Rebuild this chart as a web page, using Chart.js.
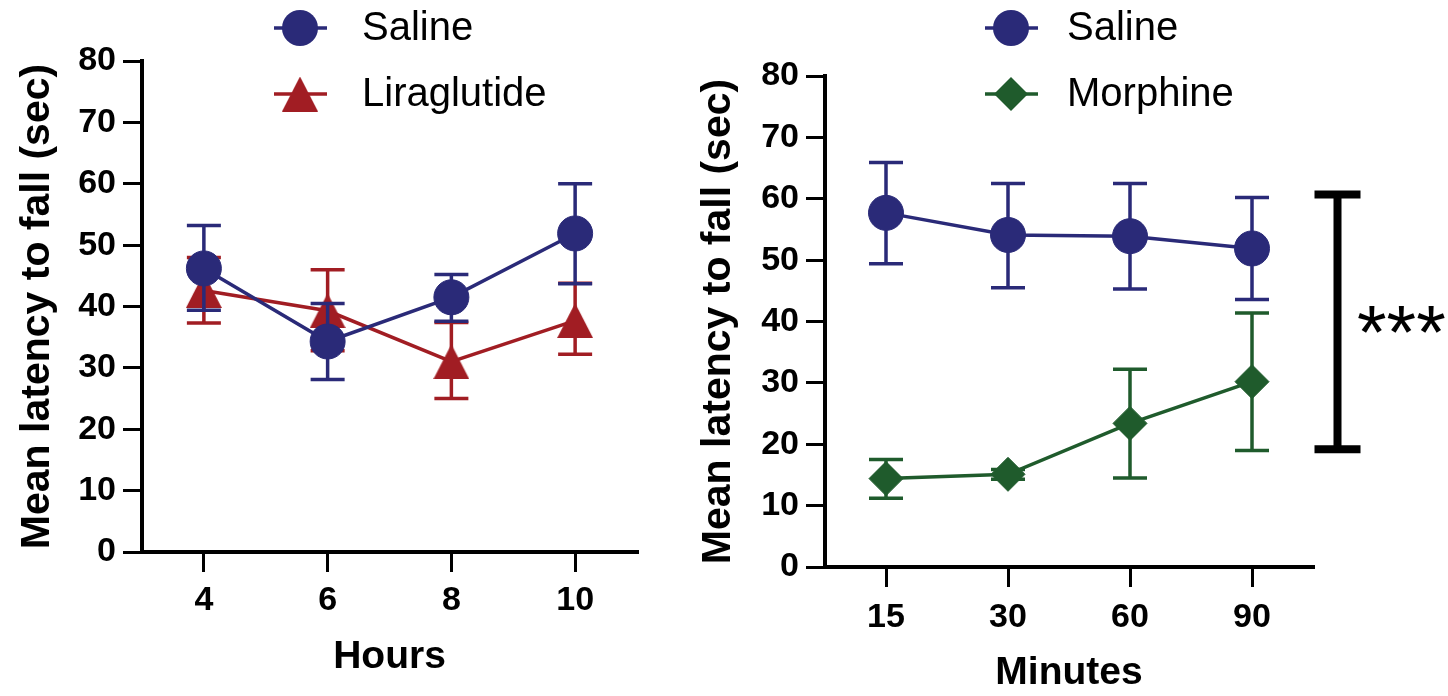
<!DOCTYPE html>
<html><head><meta charset="utf-8">
<script src="https://cdn.jsdelivr.net/npm/chart.js@4/dist/chart.umd.min.js"></script>
<style>
html,body{margin:0;padding:0;background:#fff;}
#wrap{position:relative;width:1448px;height:696px;overflow:hidden;background:#fff;}
canvas{position:absolute;top:0;}
#c1{left:0;} #c2{left:690px;}
</style></head><body>
<div id="wrap"><canvas id="c1" width="690" height="696"></canvas><canvas id="c2" width="758" height="696"></canvas></div>
<script>
// ---------- data ----------
const hoursLabels = ['4', '6', '8', '10'];
const minutesLabels = ['15', '30', '60', '90'];
const yTickValues = [0, 10, 20, 30, 40, 50, 60, 70, 80];

const salineHours = [46.2, 34.3, 41.5, 51.9];
const salineHoursHigh = [53.2, 40.5, 45.2, 60.0];
const salineHoursLow = [39.4, 28.1, 37.6, 43.7];

const liraHours = [42.6, 39.3, 31.0, 37.7];
const liraHoursHigh = [48.0, 46.0, 37.4, 43.8];
const liraHoursLow = [37.3, 32.8, 25.0, 32.2];

const salineMinutes = [57.7, 54.1, 53.9, 51.9];
const salineMinutesHigh = [65.9, 62.5, 62.5, 60.2];
const salineMinutesLow = [49.4, 45.5, 45.3, 43.6];

const morphMinutes = [14.4, 15.1, 23.4, 30.2];
const morphMinutesHigh = [17.5, 15.9, 32.2, 41.4];
const morphMinutesLow = [11.2, 14.3, 14.5, 19.0];

const sigBracket = [19.2, 60.7];
const sigText = '***';

// ---------- styles ----------
const NAVY = '#2a2a78', RED = '#a11d23', GREEN = '#1f5b2c';
const FONT = "'Liberation Sans', Arial, Helvetica, sans-serif";

function triangleCanvas(color){
  const c = document.createElement('canvas'); c.width = 36; c.height = 35;
  const g = c.getContext('2d'); g.fillStyle = color;
  g.beginPath(); g.moveTo(18, 0); g.lineTo(36, 35); g.lineTo(0, 35); g.closePath(); g.fill();
  return c;
}
const TRI = triangleCanvas(RED);

function drawMarker(ctx, style, color, x, y){
  ctx.save(); ctx.fillStyle = color;
  if (style === 'circle'){ ctx.beginPath(); ctx.arc(x, y, 18, 0, Math.PI*2); ctx.fill(); }
  else if (style === 'rectRot'){ ctx.beginPath(); ctx.moveTo(x, y-17); ctx.lineTo(x+17, y); ctx.lineTo(x, y+17); ctx.lineTo(x-17, y); ctx.closePath(); ctx.fill(); }
  else { ctx.drawImage(style, x - style.width/2, y - style.height/2); }
  ctx.restore();
}

const errorBars = {
  id: 'errorBars',
  beforeDatasetDraw(chart, args){
    const ds = chart.data.datasets[args.index];
    if (!ds.errHigh) return;
    const ys = chart.scales.y, ctx = chart.ctx;
    ctx.save(); ctx.strokeStyle = ds.borderColor; ctx.lineWidth = 3.5; ctx.lineCap = 'butt';
    args.meta.data.forEach((pt, i) => {
      const x = pt.x, yh = ys.getPixelForValue(ds.errHigh[i]), yl = ys.getPixelForValue(ds.errLow[i]);
      ctx.beginPath();
      ctx.moveTo(x, yh); ctx.lineTo(x, yl);
      ctx.moveTo(x-17, yh); ctx.lineTo(x+17, yh);
      ctx.moveTo(x-17, yl); ctx.lineTo(x+17, yl);
      ctx.stroke();
    });
    ctx.restore();
  }
};

const customLegend = {
  id: 'customLegend',
  afterDraw(chart, args, opts){
    const ctx = chart.ctx;
    chart.data.datasets.forEach((ds, i) => {
      const y = opts.rows[i];
      ctx.save();
      ctx.strokeStyle = ds.borderColor; ctx.lineWidth = 3.5;
      ctx.beginPath(); ctx.moveTo(opts.x - 26, y); ctx.lineTo(opts.x + 27, y); ctx.stroke();
      drawMarker(ctx, ds.pointStyle, ds.borderColor, opts.x, y);
      ctx.fillStyle = '#000'; ctx.font = '40px ' + FONT; ctx.textBaseline = 'middle'; ctx.textAlign = 'left';
      ctx.fillText(ds.label, opts.textX, y + 1);
      ctx.restore();
    });
  }
};

const sigPlugin = {
  id: 'sigPlugin',
  afterDraw(chart, args, opts){
    if (!opts.show) return;
    const ctx = chart.ctx, ys = chart.scales.y;
    const yTop = ys.getPixelForValue(sigBracket[1]), yBot = ys.getPixelForValue(sigBracket[0]);
    ctx.save(); ctx.strokeStyle = '#000'; ctx.lineWidth = 8; ctx.lineCap = 'butt';
    ctx.beginPath();
    ctx.moveTo(opts.x, yTop); ctx.lineTo(opts.x, yBot);
    ctx.moveTo(opts.x - 23, yTop); ctx.lineTo(opts.x + 23, yTop);
    ctx.moveTo(opts.x - 23, yBot); ctx.lineTo(opts.x + 23, yBot);
    ctx.stroke();
    ctx.fillStyle = '#000'; ctx.font = '76px ' + FONT; ctx.textBaseline = 'alphabetic'; ctx.textAlign = 'left';
    ctx.fillText(sigText, opts.textX, opts.textY);
    ctx.restore();
  }
};

function makeDataset(label, data, hi, lo, color, style, radius){
  return {
    label, data, errHigh: hi, errLow: lo,
    borderColor: color, backgroundColor: color,
    pointBackgroundColor: color, pointBorderColor: color,
    pointStyle: style, pointRadius: radius, pointBorderWidth: 1,
    borderWidth: 3.5, tension: 0, fill: false, clip: false
  };
}

function makeOptions(cfg){
  return {
    responsive: false, animation: false, events: [],
    layout: { padding: { top: cfg.top, right: cfg.right, left: 0, bottom: 0 } },
    plugins: {
      legend: { display: false }, tooltip: { enabled: false },
      customLegend: cfg.legend,
      sigPlugin: cfg.sig || { show: false }
    },
    scales: {
      x: {
        type: 'category', offset: true,
        grid: { display: true, offset: false, drawOnChartArea: false, drawTicks: true, tickLength: 20, lineWidth: 3, color: '#000' },
        border: { display: true, color: '#000', width: 4 },
        ticks: { color: '#000', padding: cfg.xPad, font: { family: FONT, size: 34, weight: 'bold' }, maxRotation: 0 },
        title: { display: true, text: cfg.xTitle, color: '#000', font: { family: FONT, size: 39, weight: 'bold', lineHeight: 1 }, padding: { top: 0, bottom: cfg.xTitlePad } },
        afterFit(s){ s.height = cfg.xHeight; }
      },
      y: {
        type: 'linear', min: 0, max: 80,
        afterBuildTicks(s){ s.ticks = yTickValues.map(v => ({ value: v })); },
        grid: { display: true, drawOnChartArea: false, drawTicks: true, tickLength: 19, lineWidth: 3, color: '#000' },
        border: { display: true, color: '#000', width: 4 },
        ticks: { color: '#000', padding: 7, font: { family: FONT, size: 34, weight: 'bold' } },
        title: { display: true, text: 'Mean latency to fall (sec)', color: '#000', font: { family: FONT, size: 41, weight: 'bold', lineHeight: 1.2 }, padding: { top: cfg.yTitlePad, bottom: 0 } },
        afterFit(s){ s.width = cfg.yWidth; }
      }
    }
  };
}

new Chart(document.getElementById('c1'), {
  type: 'line',
  data: {
    labels: hoursLabels,
    datasets: [
      makeDataset('Saline', salineHours, salineHoursHigh, salineHoursLow, NAVY, 'circle', 17.5),
      makeDataset('Liraglutide', liraHours, liraHoursHigh, liraHoursLow, RED, TRI, 17.5)
    ]
  },
  options: makeOptions({
    top: 61, right: 53, yWidth: 142, xHeight: 144, xPad: 8, xTitle: 'Hours', xTitlePad: 19, yTitlePad: 13,
    legend: { x: 300, textX: 362, rows: [28, 94] }
  }),
  plugins: [errorBars, customLegend, sigPlugin]
});

new Chart(document.getElementById('c2'), {
  type: 'line',
  data: {
    labels: minutesLabels,
    datasets: [
      makeDataset('Saline', salineMinutes, salineMinutesHigh, salineMinutesLow, NAVY, 'circle', 17.5),
      makeDataset('Morphine', morphMinutes, morphMinutesHigh, morphMinutesLow, GREEN, 'rectRot', 17)
    ]
  },
  options: makeOptions({
    top: 76, right: 135, yWidth: 135, xHeight: 129, xPad: 10, xTitle: 'Minutes', xTitlePad: 3, yTitlePad: 4,
    legend: { x: 321, textX: 377, rows: [28, 94] },
    sig: { show: true, x: 647.5, textX: 667, textY: 358 }
  }),
  plugins: [errorBars, customLegend, sigPlugin]
});
</script>
</body></html>
